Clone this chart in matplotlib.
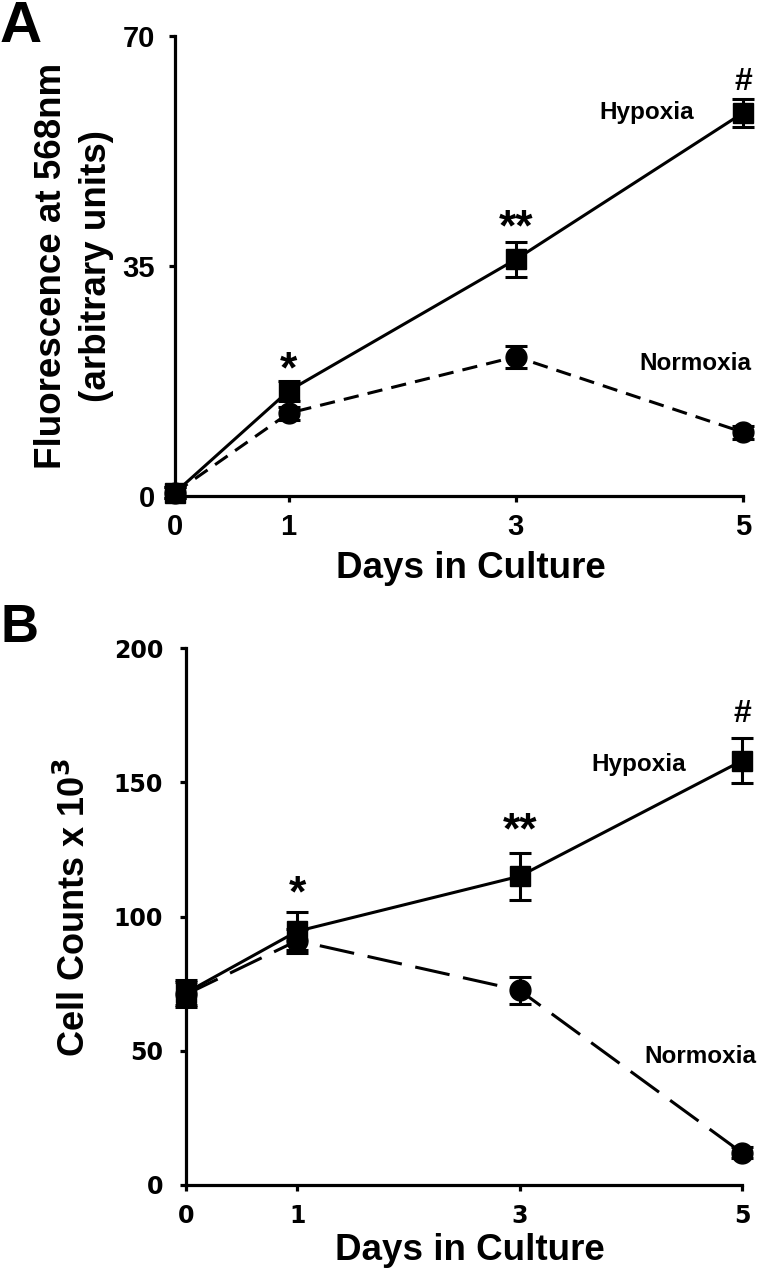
import numpy as np
import matplotlib.pyplot as plt

# Two panels: fluorescence (A) and cell counts (B) for hypoxia vs normoxia

days = [0, 1, 3, 5]

# panel A, fluorescence at 568nm
fluo_hypoxia = [0.5, 16.0, 36.0, 58.3]
fluo_hypoxia_err = [0.8, 1.5, 2.7, 2.1]
fluo_normoxia = [0.5, 12.6, 21.2, 9.7]
fluo_normoxia_err = [0.8, 1.0, 1.7, 1.0]
a_yticks = [0, 35, 70]

# panel B, cell counts x 10^3
cells_hypoxia = [71.6, 94.5, 115.0, 158.0]
cells_hypoxia_err = [4.6, 7.0, 8.8, 8.4]
cells_normoxia = [71.0, 91.0, 72.5, 12.0]
cells_normoxia_err = [4.6, 4.5, 5.0, 2.0]
b_yticks = [0, 50, 100, 150, 200]

sig_marks = ['', '*', '**', '#']

WIDE = ['DejaVu Sans']
ARIAL = ['Liberation Sans', 'DejaVu Sans']

plt.close('all')
fig = plt.figure(figsize=(7.78, 12.73), dpi=100)

ax1 = fig.add_axes([175 / 778, 1 - 496 / 1273, (743 - 175) / 778, (496 - 36) / 1273])
ax2 = fig.add_axes([186 / 778, 1 - 1185 / 1273, (742 - 186) / 778, (1185 - 648) / 1273])


def style_axes(ax, yticks, tickfont, ticksize, ypad, xpad):
    ax.spines['top'].set_visible(False)
    ax.spines['right'].set_visible(False)
    ax.spines['left'].set_linewidth(2.3)
    ax.spines['bottom'].set_linewidth(2.3)
    ax.set_xlim(0, 5)
    ax.set_ylim(yticks[0], yticks[-1])
    ax.set_xticks(days)
    ax.set_yticks(yticks)
    ax.tick_params(direction='out', length=4.5, width=2.3)
    ax.tick_params(axis='y', pad=ypad)
    ax.tick_params(axis='x', pad=xpad)
    for lab in ax.get_xticklabels() + ax.get_yticklabels():
        lab.set_fontfamily(tickfont)
        lab.set_fontweight('bold')
        lab.set_fontsize(ticksize)


def draw_series(ax, y, yerr, marker, ms, dashes):
    line = ax.errorbar(days, y, yerr=yerr, color='black', marker=marker, markersize=ms,
                       linewidth=2.2, elinewidth=2.2, capsize=8, capthick=2.2, clip_on=False)
    line[0].set_clip_on(False)
    for c in line[1]:
        c.set_clip_on(False)
    for b in line[2]:
        b.set_clip_on(False)
    if dashes is not None:
        line[0].set_dashes(dashes)
    return line


# Panel A
draw_series(ax1, fluo_normoxia, fluo_normoxia_err, 'o', 15, [5, 3])
draw_series(ax1, fluo_hypoxia, fluo_hypoxia_err, 's', 14, None)
style_axes(ax1, a_yticks, ARIAL, 21, 10, 8)

ax1.text(1, 19.0, sig_marks[1], ha='center', va='center', fontsize=32, fontweight='bold', family=ARIAL)
ax1.text(3, 40.6, sig_marks[2], ha='center', va='center', fontsize=32, fontweight='bold', family=ARIAL)
ax1.text(5, 63.0, sig_marks[3], ha='center', va='center', fontsize=23, fontweight='bold', family=ARIAL)
ax1.text(4.155, 58.4, 'Hypoxia', ha='center', va='center', fontsize=17.5, fontweight='bold', family=ARIAL)
ax1.text(4.577, 20.2, 'Normoxia', ha='center', va='center', fontsize=17.5, fontweight='bold', family=ARIAL)

fig.text(74 / 778, 1 - 266 / 1273, 'Fluorescence at 568nm\n(arbitrary units)', rotation=90,
         ha='center', va='center', multialignment='center', linespacing=1.35,
         fontsize=26.5, fontweight='bold', family=ARIAL)
fig.text(471 / 778, 1 - 568 / 1273, 'Days in Culture', ha='center', va='center',
         fontsize=26.5, fontweight='bold', family=ARIAL)
fig.text(0.0, 1.0, 'A', ha='left', va='top', fontsize=42, fontweight='bold', family=ARIAL)

# Panel B
draw_series(ax2, cells_normoxia, cells_normoxia_err, 'o', 15, [11.5, 4.5])
draw_series(ax2, cells_hypoxia, cells_hypoxia_err, 's', 14, None)
style_axes(ax2, b_yticks, WIDE, 17, 12, 9)

ax2.text(1, 108.0, sig_marks[1], ha='center', va='center', fontsize=32, fontweight='bold', family=ARIAL)
ax2.text(3, 131.5, sig_marks[2], ha='center', va='center', fontsize=32, fontweight='bold', family=ARIAL)
ax2.text(5, 175.4, sig_marks[3], ha='center', va='center', fontsize=23, fontweight='bold', family=ARIAL)
ax2.text(4.07, 156.7, 'Hypoxia', ha='center', va='center', fontsize=17.5, fontweight='bold', family=ARIAL)
ax2.text(4.63, 47.8, 'Normoxia', ha='center', va='center', fontsize=17.5, fontweight='bold', family=ARIAL)

fig.text(75 / 778, 1 - 908 / 1273, r'Cell Counts x 10$^\mathbf{3}$', rotation=90,
         ha='center', va='center', fontsize=26, fontweight='bold', family=ARIAL)
fig.text(470 / 778, 1 - 1250 / 1273, 'Days in Culture', ha='center', va='center',
         fontsize=26.5, fontweight='bold', family=ARIAL)
fig.text(0.0, 1 - 603 / 1273, 'B', ha='left', va='top', fontsize=38, fontweight='bold', family=ARIAL)

fig.savefig('out.png', dpi=100)
